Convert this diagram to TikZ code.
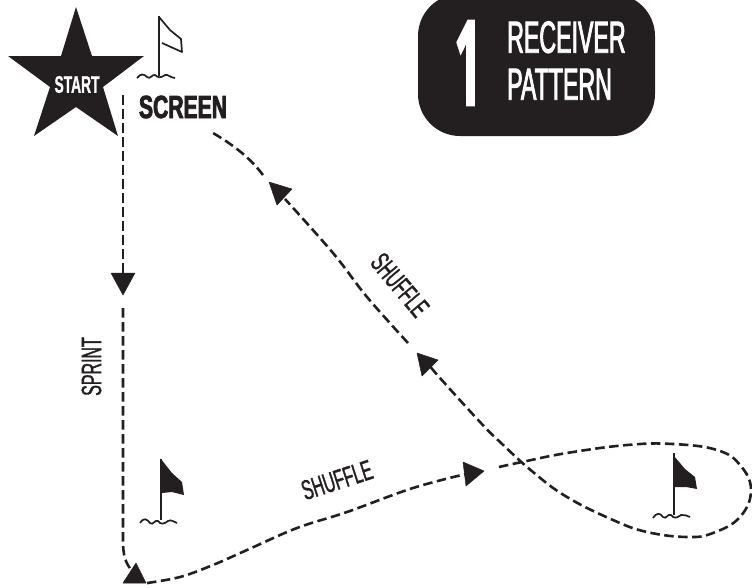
\documentclass[tikz,border=0pt]{standalone}
\usepackage{fontspec}
\setmainfont{Liberation Sans}
\newfontfamily\condlabel[FakeStretch=0.57,FakeBold=1.2]{Liberation Sans}
\newfontfamily\condbadge[FakeStretch=0.515,FakeBold=1.8]{Liberation Sans}
\newfontfamily\condnum[FakeStretch=0.4,FakeBold=1.5]{Open Sans Bold}
\newfontfamily\condstart[FakeStretch=0.575,FakeBold=1]{Liberation Sans Bold}
\newfontfamily\condscreen[FakeStretch=0.66,FakeBold=2.5]{Liberation Sans Bold}
\definecolor{ink}{HTML}{231F20}
\tikzset{
  route/.style={draw=ink,line width=2.6pt,dash pattern=on 9.5pt off 4.5pt},
  tip/.style={fill=ink,draw=ink,line width=0.5pt,line join=round},
  pole/.style={draw=ink,line width=1.9pt},
  water/.style={draw=ink,line width=1.7pt},
  lbl/.style={text=ink,inner sep=0pt,font=\condlabel\fontsize{28}{28}\selectfont},
}
\begin{document}
\begin{tikzpicture}[x=1pt,y=-1pt]
\useasboundingbox (0,0) rectangle (752,587);
\begin{scope}
\clip (0,0) rectangle (752,587);
\fill[ink,rounded corners=42pt] (418,-6) rectangle (655,136);
\end{scope}
\node[inner sep=0pt,text=white,font=\condnum\fontsize{119}{119}\selectfont] (num) at (468,63) {1};
\node[inner sep=0pt,text=white,align=left,anchor=west,font=\condbadge\fontsize{45}{47}\selectfont] (badge) at (507,60.5) {RECEIVER\\PATTERN};
% star
\fill[ink] (76,7) -- (92,56) -- (144,56) -- (103,87) -- (118,136) -- (76,107) -- (34,136) -- (50,87) -- (8,56) -- (61,56) -- cycle;
\node[inner sep=0pt,text=white,font=\condstart\fontsize{24}{24}\selectfont] (start) at (77,84.5) {START};
\node[inner sep=0pt,text=ink,font=\condscreen\fontsize{32}{32}\selectfont] (screen) at (183,107) {SCREEN};
% flags
\draw[pole] (159,16) -- (159,76);
\draw[ink,line width=1.7pt,line join=round] (159,17) -- (170,30) -- (181,39) -- (182,52) -- (162,43);
\draw[water] (137,78) .. controls (141,73) and (144,74) .. (147,77) .. controls (150,80) and (152,74) .. (155,75) .. controls (158,78) and (161,78) .. (165,75) .. controls (168,74) and (171,78) .. (175,78);
\draw[pole] (161,459) -- (161,520);
\fill[ink] (161,459) -- (172,473) -- (182,482) -- (184,495) -- (172,492) -- (162,493) -- cycle;
\draw[water] (140,523) .. controls (144,517) and (147,519) .. (150,523) .. controls (153,526) and (155,519) .. (158,521) .. controls (161,525) and (164,524) .. (168,521) .. controls (171,519) and (174,522) .. (177,523);
\draw[pole] (674,453) -- (674,515);
\fill[ink] (674,456) -- (685,469) -- (695,477) -- (697,489) -- (686,487) -- (675,487) -- cycle;
\draw[water] (653,518) .. controls (657,512) and (660,513) .. (663,517) .. controls (666,520) and (668,513) .. (671,515) .. controls (674,519) and (677,518) .. (681,515) .. controls (684,514) and (687,516) .. (690,517);
% routes
\draw[route] (123,95) -- (123,274);
\draw[route] (123,308) -- (123,540) .. controls (123,555) and (125,563) .. (133,572);
\draw[route] plot[smooth,tension=0.6] coordinates {(147,583) (180,577) (213,565) (247,550) (297,528) (347,512) (413,488) (470,473)};
\draw[route] plot[smooth,tension=0.7] coordinates {(499,467) (522,462) (567,453) (627,445) (673,444) (717,450) (740,465) (751,490) (740,517) (713,533) (687,537) (647,532) (613,520) (567,497) (533,472) (500,442) (480,422) (440,378) (430,366)};
\draw[route] plot[smooth,tension=0.6] coordinates {(408,343) (367,297) (333,253) (285,199)};
\draw[route] (263,175) .. controls (250,158) and (235,146) .. (213,133);
\fill[tip] (123,295) -- (111,273) -- (135,273) -- cycle;
\fill[tip] (136,563) -- (146,583) -- (123,583) -- cycle;
\fill[tip] (484,471) -- (463,462) -- (466,486) -- cycle;
\fill[tip] (417,353) -- (438,360) -- (422,376) -- cycle;
\fill[tip] (269,182) -- (292,189) -- (277,205) -- cycle;
% labels
\node[lbl,rotate=90] (sprint) at (91.5,366.5) {SPRINT};
\node[lbl,rotate=18] (sh1) at (337,480) {SHUFFLE};
\node[lbl,rotate=-50] (sh2) at (400,285) {SHUFFLE};
\end{tikzpicture}
\end{document}
